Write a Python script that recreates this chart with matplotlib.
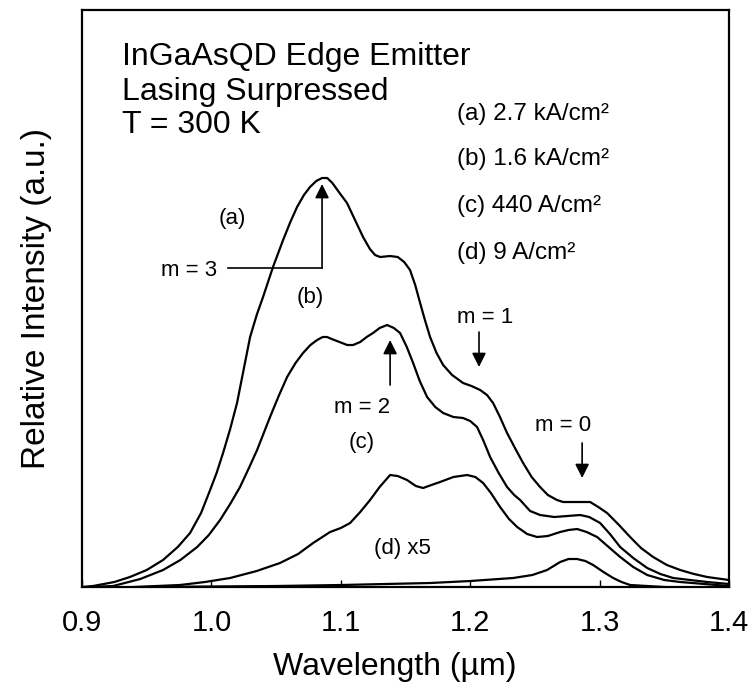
#!/usr/bin/env python3
"""
InGaAs QD edge emitter, lasing surpressed, T = 300 K:
relative EL intensity vs wavelength for four drive currents.
Curves read off the published figure (arbitrary units).
"""
import matplotlib

matplotlib.use("Agg")
import matplotlib.pyplot as plt

plt.rcParams["font.family"] = ["Liberation Sans", "DejaVu Sans"]

# (a) 2.7 kA/cm2
WL_A = [0.900, 0.9085, 0.925, 0.937, 0.950, 0.9626, 0.974, 0.9835, 0.992,
        0.999, 1.004, 1.009, 1.0145, 1.0198, 1.025, 1.0299, 1.035, 1.0399,
        1.0476, 1.0554, 1.061, 1.0662, 1.0715, 1.0762, 1.081, 1.0855,
        1.0895, 1.0935, 1.0985, 1.1048, 1.111, 1.1172, 1.1225, 1.1265,
        1.1304, 1.1381, 1.144, 1.149, 1.1535, 1.1575, 1.1613, 1.165, 1.169,
        1.174, 1.1791, 1.186, 1.1945, 1.201, 1.2077, 1.213, 1.2177, 1.223,
        1.2285, 1.235, 1.2409, 1.2475, 1.254, 1.260, 1.2671, 1.2718, 1.283,
        1.2927, 1.299, 1.3058, 1.315, 1.3236, 1.332, 1.3414, 1.352, 1.3623,
        1.373, 1.3832, 1.400]
I_A = [0, 1, 5, 10, 17, 27, 40, 54, 74, 97, 114, 134, 158, 184, 218, 250,
       272, 290, 320, 347, 365, 380, 392, 400, 406, 409, 409, 404, 395, 384,
       367, 350, 338, 332, 330, 331, 330, 325, 317, 302, 284, 267, 250, 234,
       222, 212, 204, 201, 197, 192, 184, 170, 154, 138, 124, 110, 100, 92,
       87, 85, 85, 85, 80, 74, 62, 50, 39, 30, 22, 17, 13, 10, 7]

# (b) 1.6 kA/cm2
WL_B = [0.905, 0.924, 0.945, 0.9626, 0.976, 0.989, 0.998, 1.0067, 1.0145,
        1.0221, 1.029, 1.0353, 1.0453, 1.052, 1.0585, 1.065, 1.0708, 1.0765,
        1.0817, 1.086, 1.0894, 1.093, 1.099, 1.105, 1.1095, 1.115, 1.120,
        1.1249, 1.130, 1.1358, 1.141, 1.1458, 1.151, 1.1559, 1.161, 1.1667,
        1.173, 1.1791, 1.187, 1.1945, 1.200, 1.2053, 1.210, 1.2154, 1.222,
        1.2285, 1.234, 1.2386, 1.2463, 1.254, 1.265, 1.275, 1.285, 1.292,
        1.3004, 1.308, 1.3159, 1.326, 1.3368, 1.347, 1.3569, 1.370, 1.3832,
        1.400]
I_B = [0, 1, 8, 17, 27, 40, 52, 67, 83, 100, 119, 137, 170, 191, 210, 224,
       234, 242, 247, 250, 250, 248, 245, 242, 242, 245, 250, 254, 259, 262,
       259, 254, 240, 224, 206, 190, 180, 174, 170, 169, 166, 160, 147, 130,
       114, 100, 92, 87, 76, 72, 70, 71, 72, 70, 64, 53, 40, 29, 19, 13, 9,
       7, 5, 3]

# (c) 440 A/cm2
WL_C = [0.940, 0.9757, 0.995, 1.0144, 1.035, 1.053, 1.067, 1.0786, 1.0917,
        1.100, 1.1072, 1.115, 1.1226, 1.130, 1.1381, 1.144, 1.1512, 1.158,
        1.1636, 1.170, 1.1767, 1.187, 1.1976, 1.204, 1.210, 1.216, 1.2231,
        1.230, 1.2363, 1.244, 1.2517, 1.260, 1.2695, 1.276, 1.2826, 1.290,
        1.2981, 1.307, 1.3159, 1.326, 1.3368, 1.350, 1.3623, 1.400]
I_C = [0, 2, 5, 9, 16, 24, 33, 44, 55, 59, 64, 75, 87, 100, 112, 111, 107,
       101, 99, 102, 105, 110, 112, 110, 104, 94, 80, 68, 60, 53, 50, 51, 55,
       57, 58, 55, 50, 40, 30, 20, 12, 7, 5, 1]

# (d) 9 A/cm2, x5
WL_D = [0.950, 1.050, 1.100, 1.169, 1.200, 1.2332, 1.248, 1.2594, 1.2695,
        1.276, 1.2826, 1.289, 1.295, 1.303, 1.3105, 1.317, 1.3236, 1.350]
I_D = [0, 1, 2, 4, 6, 9, 12, 17, 25, 28, 28, 26, 22, 15, 9, 5, 2, 0]

CURVES = [(WL_A, I_A), (WL_B, I_B), (WL_C, I_C), (WL_D, I_D)]

LEGEND_LINES = ["(a) 2.7 kA/cm²", "(b) 1.6 kA/cm²", "(c) 440 A/cm²",
                "(d) 9 A/cm²"]
LEGEND_Y = [467, 422, 375, 328]
TITLE_LINES = ["InGaAsQD Edge Emitter", "Lasing Surpressed", "T = 300 K"]
TITLE_Y = [522, 487, 454]

# curve tags (label, x, y)
TAGS = [("(a)", 1.0159, 369), ("(b)", 1.0762, 290), ("(c)", 1.1164, 145),
        ("(d) x5", 1.1473, 39)]

XTICKS = [0.9, 1.0, 1.1, 1.2, 1.3, 1.4]


def main():
    fig = plt.figure(figsize=(7.51, 6.86), dpi=100)
    ax = fig.add_axes([0.1092, 0.1443, 0.8615, 0.8411])

    for wl, inten in CURVES:
        ax.plot(wl, inten, color="black", lw=1.6, solid_joinstyle="round")

    ax.set_xlim(0.9, 1.4)
    ax.set_ylim(0, 577)
    ax.set_yticks([])
    ax.set_xticks(XTICKS)
    ax.set_xticklabels([f"{t:.1f}" for t in XTICKS])
    ax.tick_params(axis="x", direction="in", length=5, width=1,
                   labelsize=21, pad=16)
    for sp in ax.spines.values():
        sp.set_linewidth(1.6)

    ax.set_xlabel("Wavelength (µm)", fontsize=23)
    ax.xaxis.set_label_coords(0.484, -0.112)
    ax.set_ylabel("Relative Intensity (a.u.)", fontsize=24)
    ax.yaxis.set_label_coords(-0.046, 0.5)

    for txt, y in zip(TITLE_LINES, TITLE_Y):
        ax.text(0.931, y, txt, fontsize=23, va="baseline", ha="left")
    for txt, y in zip(LEGEND_LINES, LEGEND_Y):
        ax.text(1.19, y, txt, fontsize=17.5, va="baseline", ha="left")
    for txt, x, y in TAGS:
        ax.text(x, y, txt, fontsize=16, ha="center", va="center")

    arrow = dict(arrowstyle="-|>,head_length=0.6,head_width=0.3",
                 color="black", lw=1.2, shrinkA=0, shrinkB=0,
                 mutation_scale=14)

    # m = 3: L-shaped leader up to peak of (a)
    ax.text(1.0044, 317, "m = 3", fontsize=16, ha="right", va="center")
    ax.plot([1.0129, 1.0855], [319, 319], color="black", lw=1.2)
    ax.annotate("", xy=(1.0855, 403), xytext=(1.0855, 319), arrowprops=arrow)

    # m = 2: up to the second hump of (b)
    ax.text(1.1164, 180, "m = 2", fontsize=16, ha="center", va="center")
    ax.annotate("", xy=(1.1381, 247), xytext=(1.1381, 202), arrowprops=arrow)

    # m = 1 and m = 0: pointing down on (a)
    ax.text(1.1899, 270, "m = 1", fontsize=16, ha="left", va="center")
    ax.annotate("", xy=(1.2068, 220), xytext=(1.2068, 255), arrowprops=arrow)
    ax.text(1.2502, 162, "m = 0", fontsize=16, ha="left", va="center")
    ax.annotate("", xy=(1.2865, 109), xytext=(1.2865, 144), arrowprops=arrow)

    fig.savefig("out.png", dpi=100)


if __name__ == "__main__":
    main()
